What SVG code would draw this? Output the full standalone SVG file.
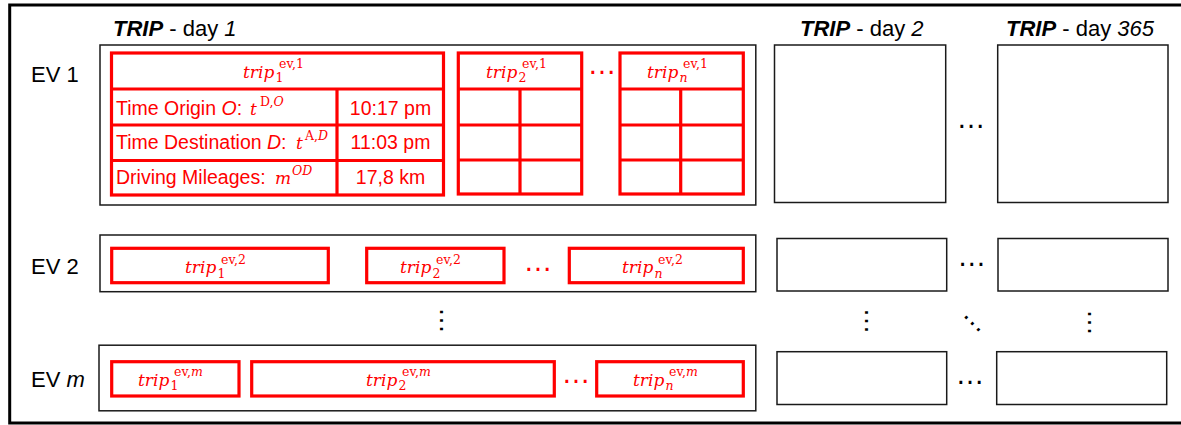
<svg xmlns="http://www.w3.org/2000/svg" width="1181" height="425" viewBox="0 0 1181 425">
<style>
.frame{fill:none;stroke:#000;stroke-width:3}
.box{fill:#fff;stroke:#1a1a1a;stroke-width:1.5}
.red{fill:#fff;stroke:#f00;stroke-width:3.2}
.rl{stroke:#f00;stroke-width:3.2;fill:none}
.lbl{font-family:"Liberation Sans",Arial,sans-serif;font-size:22px;fill:#000}
.cell{font-family:"Liberation Sans",Arial,sans-serif;font-size:19.5px;fill:#f00}
.val{font-family:"Liberation Sans",Arial,sans-serif;font-size:19.5px;fill:#f00;text-anchor:middle}
.m{font-family:"DejaVu Serif","Liberation Serif",serif;font-style:italic;font-size:17px;fill:#f00}
.s{font-size:12.5px}
.up{font-style:normal}
.it{font-style:italic}
.b{font-weight:bold;font-style:italic}
.dots{font-family:"Liberation Sans",Arial,sans-serif;font-size:29px;text-anchor:middle;fill:#000}
.vd{font-family:"Liberation Sans",Arial,sans-serif;font-size:27px;text-anchor:middle;fill:#000}
.rd{fill:#f00}
</style>
<rect class="frame" x="9.7" y="5" width="1180" height="418"/>

<g id="titles">
<text class="lbl" x="113" y="36"><tspan class="b">TRIP</tspan> - day <tspan class="it">1</tspan></text>
<text class="lbl" x="800" y="36"><tspan class="b">TRIP</tspan> - day <tspan class="it">2</tspan></text>
<text class="lbl" x="1006" y="36"><tspan class="b">TRIP</tspan> - day <tspan class="it">365</tspan></text>
</g>

<g id="ev-labels">
<text class="lbl" x="31" y="82">EV 1</text>
<text class="lbl" x="31" y="273.5">EV 2</text>
<text class="lbl" x="31" y="386.5">EV <tspan class="it">m</tspan></text>
</g>

<g id="ev1-day1">
<rect class="box" x="100" y="45" width="655.8" height="160"/>
<g id="ev1-trip1">
<rect class="red" x="111.5" y="53" width="332" height="142"/>
<path class="rl" d="M111.5 89H443.5M111.5 125H443.5M111.5 160.5H443.5M337 89V195"/>
<text class="m" x="243" y="77.5">trip<tspan class="s up" x="275.5" y="82">1</tspan><tspan class="s up" x="279" y="68">ev,1</tspan></text>
<text class="cell" x="116" y="114.7">Time Origin <tspan class="it">O</tspan>: <tspan class="m" x="250">t</tspan><tspan class="m s up" x="260" y="105.5">D,<tspan class="it">O</tspan></tspan></text>
<text class="cell" x="116" y="148.7">Time Destination <tspan class="it">D</tspan>: <tspan class="m" x="296">t</tspan><tspan class="m s up" x="305" y="139.5">A,<tspan class="it">D</tspan></tspan></text>
<text class="cell" x="116" y="183.7">Driving Mileages: <tspan class="m" x="275">m</tspan><tspan class="m s" x="292" y="174.5">OD</tspan></text>
<text class="val" x="390.5" y="114.7">10:17 pm</text>
<text class="val" x="390.5" y="148.7">11:03 pm</text>
<text class="val" x="390.5" y="183.7">17,8 km</text>
</g>
<g id="ev1-trip2">
<rect class="red" x="458.3" y="53" width="123.4" height="141"/>
<path class="rl" d="M458.3 89H581.7M458.3 125H581.7M458.3 160H581.7M520 89V194"/>
<text class="m" x="486" y="77.5">trip<tspan class="s up" x="518.5" y="82">2</tspan><tspan class="s up" x="522" y="68">ev,1</tspan></text>
</g>
<text class="dots rd" x="602" y="74.1">…</text>
<g id="ev1-tripn">
<rect class="red" x="620" y="53" width="123.3" height="141"/>
<path class="rl" d="M620 89H743.3M620 125H743.3M620 160H743.3M680.7 89V194"/>
<text class="m" x="647" y="77.5">trip<tspan class="s" x="679.5" y="82">n</tspan><tspan class="s up" x="683" y="68">ev,1</tspan></text>
</g>
</g>

<g id="ev2-day1">
<rect class="box" x="100" y="235" width="655.8" height="56.7"/>
<g id="ev2-trip1">
<rect class="red" x="111.7" y="248.3" width="216.6" height="34.4"/>
<text class="m" x="185" y="273.3">trip<tspan class="s up" x="217.5" y="277.8">1</tspan><tspan class="s up" x="221" y="263.8">ev,2</tspan></text>
</g>
<g id="ev2-trip2">
<rect class="red" x="366.7" y="248.3" width="137.3" height="34.4"/>
<text class="m" x="400" y="273.3">trip<tspan class="s up" x="432.5" y="277.8">2</tspan><tspan class="s up" x="436" y="263.8">ev,2</tspan></text>
</g>
<text class="dots rd" x="538" y="271.4">…</text>
<g id="ev2-tripn">
<rect class="red" x="569.3" y="248.3" width="174" height="34.4"/>
<text class="m" x="622" y="273.3">trip<tspan class="s" x="654.5" y="277.8">n</tspan><tspan class="s up" x="658" y="263.8">ev,2</tspan></text>
</g>
</g>

<g id="evm-day1">
<rect class="box" x="99" y="345.2" width="656.8" height="65.6"/>
<g id="evm-trip1">
<rect class="red" x="111.7" y="361.7" width="127.3" height="34.3"/>
<text class="m" x="138" y="385.7">trip<tspan class="s up" x="170.5" y="390.2">1</tspan><tspan class="s up" x="174" y="376.2">ev,<tspan class="it">m</tspan></tspan></text>
</g>
<g id="evm-trip2">
<rect class="red" x="251.7" y="361.7" width="302.6" height="34.3"/>
<text class="m" x="366" y="385.7">trip<tspan class="s up" x="398.5" y="390.2">2</tspan><tspan class="s up" x="402" y="376.2">ev,<tspan class="it">m</tspan></tspan></text>
</g>
<text class="dots rd" x="576" y="383.4">…</text>
<g id="evm-tripn">
<rect class="red" x="596.7" y="361.7" width="146.6" height="34.3"/>
<text class="m" x="633" y="385.7">trip<tspan class="s" x="665.5" y="390.2">n</tspan><tspan class="s up" x="669" y="376.2">ev,<tspan class="it">m</tspan></tspan></text>
</g>
</g>

<g id="ev1-day2"><rect class="box" x="774.5" y="45" width="171.2" height="157.5"/></g>
<g id="ev1-day365"><rect class="box" x="997.7" y="45" width="170.3" height="157.5"/></g>
<g id="ev2-day2"><rect class="box" x="777" y="238.5" width="169.7" height="52.5"/></g>
<g id="ev2-day365"><rect class="box" x="998" y="238.5" width="170" height="52.5"/></g>
<g id="evm-day2"><rect class="box" x="777" y="351.7" width="169.7" height="52.8"/></g>
<g id="evm-day365"><rect class="box" x="996.7" y="351.7" width="170" height="52.8"/></g>

<g id="ellipses">
<text class="dots" x="971" y="128.4">…</text>
<text class="dots" x="971.7" y="266.4">…</text>
<text class="dots" x="970" y="384.1">…</text>
<text class="vd" transform="translate(441.7,320.5) rotate(90)" x="0" y="1.35">…</text>
<text class="vd" transform="translate(866,321) rotate(90)" x="0" y="1.35">…</text>
<text class="vd" transform="translate(1089.3,322.5) rotate(90)" x="0" y="1.35">…</text>
<text class="vd" transform="translate(972.3,323.7) rotate(45)" x="0" y="1.35">…</text>
</g>

<g id="connectors"/>
</svg>
